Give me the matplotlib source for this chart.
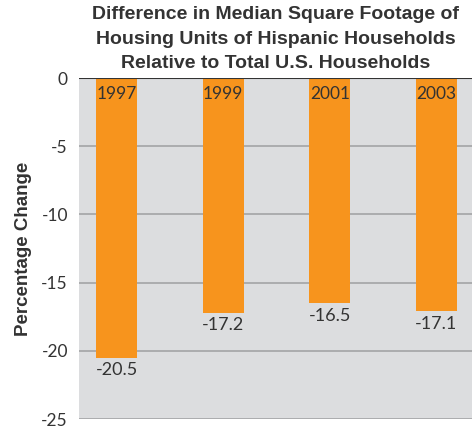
import matplotlib
matplotlib.use("Agg")
import matplotlib.pyplot as plt

years = ["1997", "1999", "2001", "2003"]
values = [-20.5, -17.2, -16.5, -17.1]
yticks = [0, -5, -10, -15, -20, -25]

bar_color = "#f7941d"
bg_color = "#dcdddf"
text_color = "#333333"

fig = plt.figure(figsize=(4.75, 4.28), dpi=100)
ax = fig.add_axes([0.1663, 0.021, 0.8274, 0.7967])
ax.set_facecolor(bg_color)

x = list(range(len(years)))
ax.bar(x, values, width=0.387, color=bar_color, zorder=3)

ax.set_xlim(-0.354, 3.335)
ax.set_ylim(-25, 0)
ax.set_yticks(yticks)
ax.set_yticklabels([str(t) for t in yticks], fontsize=12.5, color=text_color, family="Lato")
ax.set_xticks([])
ax.tick_params(axis="y", length=0, pad=8)

for t in yticks[1:]:
    ax.axhline(t, color="#a3a4a6", linewidth=1.2, zorder=1)
ax.axhline(0, color="#333333", linewidth=1.5, zorder=4)

for s in ax.spines.values():
    s.set_visible(False)

# 年份放在長條頂端，數值放在底端下方
for xi, yr, v in zip(x, years, values):
    ax.text(xi, -0.55, yr, ha="center", va="top", fontsize=12.5, color=text_color,
            family="Lato", zorder=5)
    ax.text(xi, v - 0.35, f"{v:.1f}", ha="center", va="top", fontsize=13,
            color=text_color, family="Lato", zorder=5)

ax.set_ylabel("Percentage Change", fontsize=13.5, fontweight="bold",
              color=text_color, family="Liberation Sans", labelpad=7)

fig.text(0.58, 0.985,
         "Difference in Median Square Footage of\nHousing Units of Hispanic Households\nRelative to Total U.S. Households",
         ha="center", va="top", fontsize=14, fontweight="bold", color=text_color,
         family="Liberation Sans", linespacing=1.55)

fig.savefig("out.png", dpi=100)
